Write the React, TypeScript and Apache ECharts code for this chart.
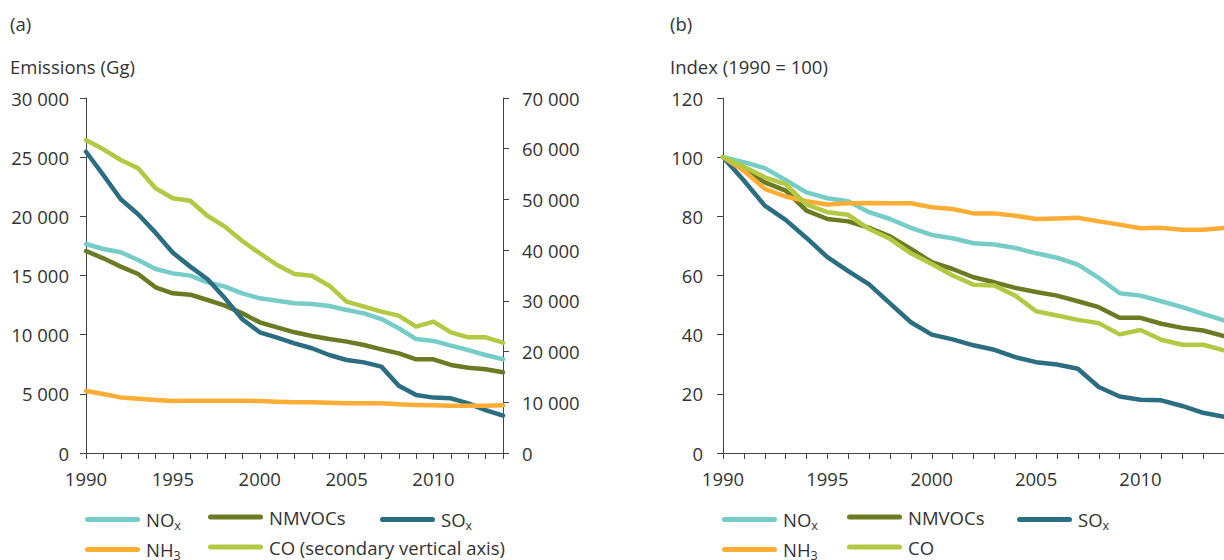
import React, { useEffect, useRef } from "react";
import * as echarts from "echarts";

const years = ["1990","1991","1992","1993","1994","1995","1996","1997","1998","1999","2000","2001","2002","2003","2004","2005","2006","2007","2008","2009","2010","2011","2012","2013","2014"];

// Panel (a): emissions (Gg)
const noxA = [17660,17240,16960,16310,15550,15180,14990,14420,14060,13490,13070,12870,12650,12590,12420,12090,11800,11320,10540,9630,9470,9070,8700,8280,7920];
const nmvocA = [17070,16450,15750,15130,14000,13490,13380,12930,12450,11800,11040,10620,10200,9890,9630,9410,9130,8760,8420,7920,7920,7440,7210,7070,6820];
const soxA = [25460,23490,21440,20170,18620,16930,15750,14680,13070,11300,10200,9750,9270,8850,8280,7860,7660,7300,5690,4900,4680,4620,4200,3630,3160];
const nh3A = [5240,4990,4700,4590,4480,4390,4420,4420,4420,4420,4390,4340,4280,4280,4250,4200,4200,4200,4110,4060,4030,4000,4000,4000,4030];
const coA = [61720,59880,57780,56140,52190,50220,49750,46730,44630,41800,39380,37070,35300,34960,32990,29840,28850,27870,27080,24910,25900,23790,22810,22810,21760];

// Panel (b): index (1990 = 100)
const noxB = [100,98.3,96.3,92.3,88.1,86.1,85.1,81.4,79.1,76.1,73.7,72.6,70.9,70.5,69.3,67.5,66.0,63.7,59.2,54.0,53.2,51.3,49.3,47.0,44.8];
const nmvocB = [100,95.7,91.5,88.7,81.9,79.1,78.3,76.1,73.2,69.0,64.5,62.2,59.4,57.7,55.8,54.4,53.2,51.3,49.3,45.7,45.7,43.7,42.3,41.4,39.5];
const soxB = [100,92.1,83.6,78.8,72.7,66.2,61.5,57.0,50.6,44.2,40.0,38.4,36.4,34.9,32.4,30.7,29.9,28.5,22.3,19.1,18.0,17.8,15.9,13.6,12.2];
const nh3B = [100,95.4,89.3,86.7,85.1,84.0,84.4,84.5,84.4,84.4,83.1,82.5,81.0,81.0,80.2,79.1,79.3,79.5,78.3,77.2,76.0,76.1,75.5,75.5,76.1];
const coB = [100,96.8,93.2,90.9,84.0,81.4,80.5,75.7,72.4,67.5,63.9,60.0,56.9,56.6,53.2,47.9,46.5,45.0,43.9,40.1,41.6,38.3,36.6,36.6,34.7];

const colors: Record<string, string> = {
  NOx: "#76CCC7",
  NMVOCs: "#6B7B24",
  SOx: "#2B6E82",
  NH3: "#FBAD35",
  CO: "#B3C944",
};

const FONT = "Open Sans";
const FS = 18.5;
const TXT = "#333333";
const AX = "#444444";

const fmt = (v: number) => String(v).replace(/\B(?=(\d{3})+(?!\d))/g, " ");

const legendIcon = "path://M2.5,0 L52.5,0 A2.5,2.5 0 0 1 52.5,5 L2.5,5 A2.5,2.5 0 0 1 2.5,0 Z";

const richText = {
  m: { fontSize: FS, lineHeight: 20, color: TXT, fontFamily: FONT },
  s: { fontSize: 12.5, lineHeight: 14, color: TXT, fontFamily: FONT, padding: [12, 0, 0, 0] },
};

const labelFor = (name: string, secondary: boolean) => {
  if (name === "NOx") return "{m|NO}{s|x}";
  if (name === "SOx") return "{m|SO}{s|x}";
  if (name === "NH3") return "{m|NH}{s|3}";
  if (name === "CO" && secondary) return "{m|CO (secondary vertical axis)}";
  return "{m|" + name + "}";
};

const ROW1 = 507;
const ROW2 = 537;

function makeLegend(name: string, left: number, top: number, secondary: boolean) {
  return {
    data: [name],
    orient: "horizontal",
    left,
    top,
    padding: 0,
    itemGap: 0,
    itemWidth: 55,
    itemHeight: 5,
    icon: legendIcon,
    selectedMode: false,
    formatter: (n: string) => labelFor(n, secondary),
    textStyle: { fontSize: FS, lineHeight: 20, color: TXT, fontFamily: FONT, padding: [0, 0, 0, 1], rich: richText },
  };
}

const titleStyle = { fontSize: FS, fontWeight: "normal", color: TXT, fontFamily: FONT };

export default function App() {
  const ref = useRef<HTMLDivElement>(null);
  useEffect(() => {
    if (!ref.current) return;
    const chart = echarts.init(ref.current, undefined, { renderer: "svg" });

    const xAxisBase = (gridIndex: number) => ({
      type: "category",
      gridIndex,
      data: years,
      boundaryGap: false,
      axisLine: { lineStyle: { color: AX, width: 1 } },
      axisTick: { show: true, interval: 0, length: 6, lineStyle: { color: AX } },
      axisLabel: { interval: 4, margin: 16, fontSize: FS, color: TXT, fontFamily: FONT },
      splitLine: { show: false },
    });

    const yAxisBase = (gridIndex: number, max: number, interval: number, position: string, margin: number) => ({
      type: "value",
      gridIndex,
      min: 0,
      max,
      interval,
      position,
      axisLine: { show: true, lineStyle: { color: AX, width: 1 } },
      axisTick: { show: true, length: 6, lineStyle: { color: AX } },
      axisLabel: { margin, fontSize: FS, color: TXT, fontFamily: FONT, formatter: (v: number) => fmt(v) },
      splitLine: { show: false },
    });

    const mkSeries = (name: string, data: number[], xAxisIndex: number, yAxisIndex: number) => ({
      name,
      type: "line",
      data,
      xAxisIndex,
      yAxisIndex,
      symbol: "none",
      showSymbol: false,
      color: colors[name],
      lineStyle: { width: 4.5, color: colors[name], cap: "round", join: "round" },
      emphasis: { disabled: true },
    });

    chart.setOption({
      animation: false,
      textStyle: { fontFamily: FONT },
      title: [
        { text: "(a)", left: 10, top: 14, padding: 0, textStyle: titleStyle },
        { text: "Emissions (Gg)", left: 10, top: 57, padding: 0, textStyle: titleStyle },
        { text: "(b)", left: 670, top: 14, padding: 0, textStyle: titleStyle },
        { text: "Index (1990 = 100)", left: 670, top: 57, padding: 0, textStyle: titleStyle },
      ],
      grid: [
        { left: 86, top: 98, width: 417, height: 355, containLabel: false },
        { left: 723, top: 98, width: 502, height: 355, containLabel: false },
      ],
      xAxis: [xAxisBase(0), xAxisBase(1)],
      yAxis: [
        yAxisBase(0, 30000, 5000, "left", 17),
        yAxisBase(0, 70000, 10000, "right", 19),
        yAxisBase(1, 120, 20, "left", 20),
      ],
      legend: [
        makeLegend("NOx", 85, ROW1, true),
        makeLegend("NMVOCs", 208, ROW1, true),
        makeLegend("SOx", 380, ROW1, true),
        makeLegend("NH3", 85, ROW2, true),
        makeLegend("CO", 208, ROW2, true),
        makeLegend("NOx", 722, ROW1, false),
        makeLegend("NMVOCs", 847, ROW1, false),
        makeLegend("SOx", 1017, ROW1, false),
        makeLegend("NH3", 722, ROW2, false),
        makeLegend("CO", 847, ROW2, false),
      ],
      series: [
        mkSeries("NOx", noxA, 0, 0),
        mkSeries("NMVOCs", nmvocA, 0, 0),
        mkSeries("SOx", soxA, 0, 0),
        mkSeries("NH3", nh3A, 0, 0),
        mkSeries("CO", coA, 0, 1),
        mkSeries("NOx", noxB, 1, 2),
        mkSeries("NMVOCs", nmvocB, 1, 2),
        mkSeries("SOx", soxB, 1, 2),
        mkSeries("NH3", nh3B, 1, 2),
        mkSeries("CO", coB, 1, 2),
      ],
    });
    return () => chart.dispose();
  }, []);

  return (
    <div
      ref={ref}
      style={{ position: "fixed", left: 0, top: 0, width: 1224, height: 560, background: "#ffffff" }}
    />
  );
}
